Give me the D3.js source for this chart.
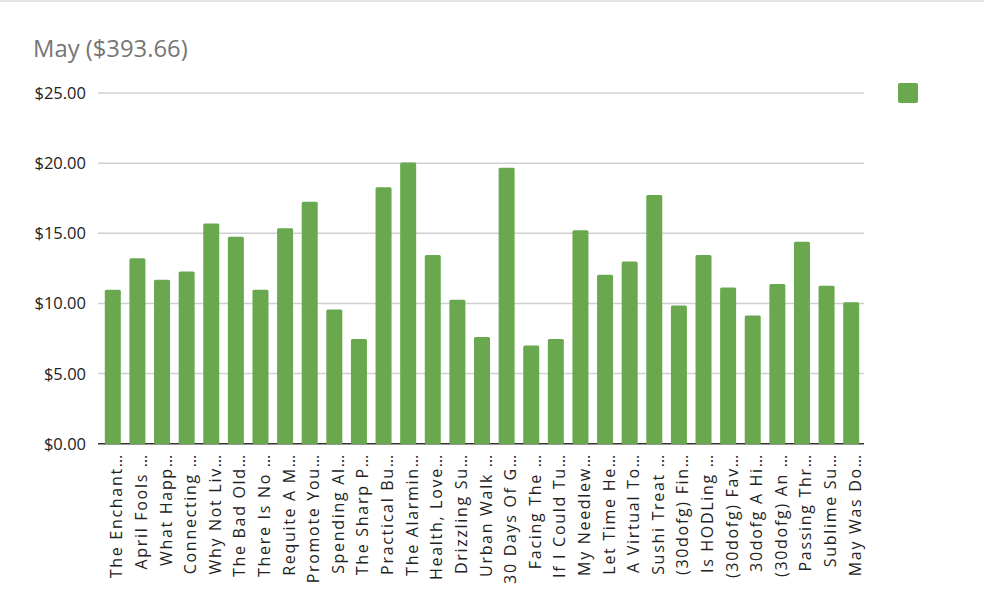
<!DOCTYPE html>
<html><head><meta charset="utf-8">
<script src="https://cdn.jsdelivr.net/npm/d3@7"></script>
<style>body{margin:0;background:#fff;} svg{display:block;}</style>
</head><body>
<svg id="chart" width="984" height="612"></svg>
<script>
const title = "May ($393.66)";
const categories = ["The Enchant…","April Fools …","What Happ…","Connecting …","Why Not Liv…","The Bad Old…","There Is No …","Requite A M…","Promote You…","Spending Al…","The Sharp P…","Practical Bu…","The Alarmin…","Health, Love…","Drizzling Su…","Urban Walk …","30 Days Of G…","Facing The …","If I Could Tu…","My Needlew…","Let Time He…","A Virtual To…","Sushi Treat …","(30dofg) Fin…","Is HODLing …","(30dofg) Fav…","30dofg A Hi…","(30dofg) An …","Passing Thr…","Sublime Su…","May Was Do…"];
const values = [10.98,13.22,11.68,12.28,15.7,14.76,10.98,15.35,17.24,9.56,7.47,18.28,20.05,13.46,10.27,7.6,19.68,7.0,7.47,15.22,12.04,12.98,17.72,9.85,13.46,11.14,9.13,11.38,14.4,11.26,10.08];
const yTicks = [0,5,10,15,20,25];

const svg = d3.select("#chart");
const W = 984, H = 612;
const FONT = "'Open Sans', 'Noto Sans', sans-serif";

svg.append("rect").attr("x",0).attr("y",0).attr("width",W).attr("height",2).attr("fill","#e3e3e3");

const x = d3.scaleBand().domain(categories).range([100.5, 863.5]).paddingInner(0.35).paddingOuter(0.175);
const y = d3.scaleLinear().domain([0,25]).range([443.7, 93]);

svg.append("text").attr("x",33).attr("y",57).attr("fill","#757575")
  .attr("font-family",FONT).attr("font-size",23.8).text(title);

// gridlines
svg.append("g").selectAll("line").data(yTicks.filter(d=>d>0)).join("line")
  .attr("x1",98).attr("x2",864).attr("y1",d=>y(d)).attr("y2",d=>y(d))
  .attr("stroke","#d0d0d0").attr("stroke-width",1.5);

// y labels
svg.append("g").selectAll("text").data(yTicks).join("text")
  .attr("x",86).attr("y",d=>y(d)).attr("dy","0.36em").attr("text-anchor","end")
  .attr("font-family",FONT).attr("font-size",16.5).attr("fill","#222")
  .text(d=>"$"+d3.format(".2f")(d));

// x axis line
svg.append("line").attr("x1",98).attr("x2",864).attr("y1",y(0)).attr("y2",y(0))
  .attr("stroke","#333").attr("stroke-width",1.5);

// bars
svg.append("g").selectAll("rect").data(values).join("rect")
  .attr("x",(d,i)=>x(categories[i])).attr("width",x.bandwidth())
  .attr("y",d=>y(d)).attr("height",d=>y(0)-y(d)+0.5)
  .attr("rx",1.5).attr("fill","#6aa84f");

// x labels
svg.append("g").selectAll("text").data(categories).join("text")
  .attr("transform",d=>`translate(${x(d)+x.bandwidth()/2+9.5},453) rotate(-90)`)
  .attr("text-anchor","end")
  .attr("font-family",FONT).attr("font-size",16).attr("fill","#222")
  .attr("letter-spacing","1.7")
  .text(d=>d);

// legend
svg.append("rect").attr("x",898).attr("y",83).attr("width",20).attr("height",20).attr("rx",2).attr("fill","#6aa84f");
</script>
</body></html>
